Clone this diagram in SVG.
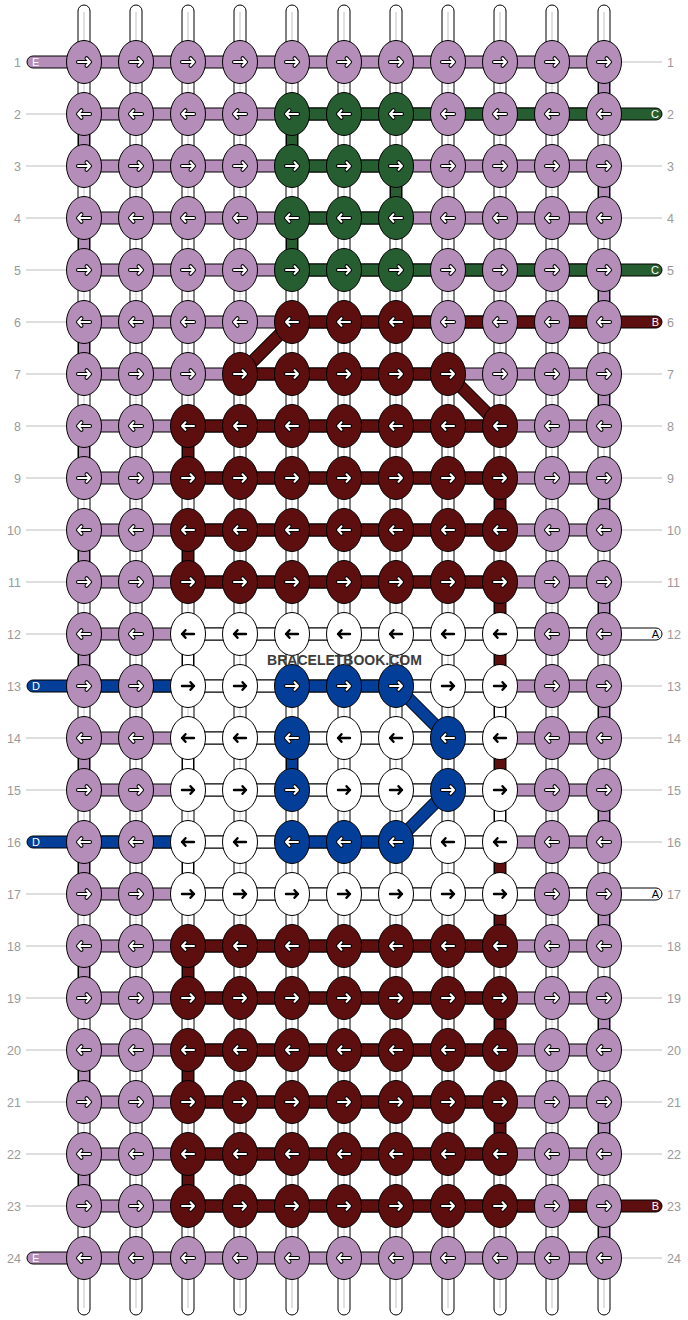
<svg xmlns="http://www.w3.org/2000/svg" xmlns:xlink="http://www.w3.org/1999/xlink" width="688" height="1320" viewBox="0 0 688 1320">
<style>
.s{stroke:#000;stroke-width:1}
.P{fill:#b48eb9}.G{fill:#275e31}.R{fill:#5d0e0e}.W{fill:#fff}.B{fill:#033f98}
.warp{fill:#fff;stroke:#000;stroke-width:1}
.wl{stroke:#c4c4c4;stroke-width:1}
.ao{fill:none;stroke:#000;stroke-width:4;stroke-linecap:round;stroke-linejoin:round}
.ai{fill:none;stroke:#fff;stroke-width:2;stroke-linecap:round;stroke-linejoin:round}
.ab{fill:none;stroke:#000;stroke-width:2.4;stroke-linecap:round;stroke-linejoin:round}
.num{font-family:"Liberation Sans",Arial,sans-serif;font-size:12.5px;fill:#9a9a9a}
.gl{stroke:#bdbdbd;stroke-width:1}
.lab{font-family:"Liberation Sans",Arial,sans-serif;font-size:11px}
.dO{stroke:#000;stroke-width:13}
.dR{stroke:#5d0e0e;stroke-width:11}
.dB{stroke:#033f98;stroke-width:11}
.title{font-family:"Liberation Sans",Arial,sans-serif;font-size:14px;font-weight:bold;fill:#3c3c3c}
</style>
<defs>
<path id="ar" d="M-6,0H6M2.5,-3.8L6,0L2.5,3.8"/>
<path id="al" d="M6,0H-6M-2.5,-3.8L-6,0L-2.5,3.8"/>
<g id="PR"><ellipse rx="17.5" ry="21.5" class="P s"/><use href="#ar" class="ao"/><use href="#ar" class="ai"/></g>
<g id="PL"><ellipse rx="17.5" ry="21.5" class="P s"/><use href="#al" class="ao"/><use href="#al" class="ai"/></g>
<g id="GR"><ellipse rx="17.5" ry="21.5" class="G s"/><use href="#ar" class="ao"/><use href="#ar" class="ai"/></g>
<g id="GL"><ellipse rx="17.5" ry="21.5" class="G s"/><use href="#al" class="ao"/><use href="#al" class="ai"/></g>
<g id="RR"><ellipse rx="17.5" ry="21.5" class="R s"/><use href="#ar" class="ao"/><use href="#ar" class="ai"/></g>
<g id="RL"><ellipse rx="17.5" ry="21.5" class="R s"/><use href="#al" class="ao"/><use href="#al" class="ai"/></g>
<g id="BR"><ellipse rx="17.5" ry="21.5" class="B s"/><use href="#ar" class="ao"/><use href="#ar" class="ai"/></g>
<g id="BL"><ellipse rx="17.5" ry="21.5" class="B s"/><use href="#al" class="ao"/><use href="#al" class="ai"/></g>
<g id="WR"><ellipse rx="17.5" ry="21.5" class="W s"/><use href="#ar" class="ab"/></g>
<g id="WL"><ellipse rx="17.5" ry="21.5" class="W s"/><use href="#al" class="ab"/></g>
</defs>
<rect width="688" height="1320" fill="#fff"/>
<g id="warps">
<rect class="warp" x="78" y="5" width="12" height="1310" rx="6"/><rect class="warp" x="130" y="5" width="12" height="1310" rx="6"/><rect class="warp" x="182" y="5" width="12" height="1310" rx="6"/><rect class="warp" x="234" y="5" width="12" height="1310" rx="6"/><rect class="warp" x="286" y="5" width="12" height="1310" rx="6"/><rect class="warp" x="338" y="5" width="12" height="1310" rx="6"/><rect class="warp" x="390" y="5" width="12" height="1310" rx="6"/><rect class="warp" x="442" y="5" width="12" height="1310" rx="6"/><rect class="warp" x="494" y="5" width="12" height="1310" rx="6"/><rect class="warp" x="546" y="5" width="12" height="1310" rx="6"/><rect class="warp" x="598" y="5" width="12" height="1310" rx="6"/>
<path class="wl" d="M84,12V1308M136,12V1308M188,12V1308M240,12V1308M292,12V1308M344,12V1308M396,12V1308M448,12V1308M500,12V1308M552,12V1308M604,12V1308"/>
</g>
<g id="labels-rows">
<path class="gl" d="M26,114H66M26,166H66M26,218H66M26,270H66M26,322H66M26,374H66M26,426H66M26,478H66M26,530H66M26,582H66M26,634H66M26,738H66M26,790H66M26,894H66M26,946H66M26,998H66M26,1050H66M26,1102H66M26,1154H66M26,1206H66"/>
<path class="gl" d="M622,62H662M622,166H662M622,218H662M622,374H662M622,426H662M622,478H662M622,530H662M622,582H662M622,686H662M622,738H662M622,790H662M622,842H662M622,946H662M622,998H662M622,1050H662M622,1102H662M622,1154H662M622,1258H662"/>
<g class="num" text-anchor="end">
<text x="21" y="66.5">1</text><text x="21" y="118.5">2</text><text x="21" y="170.5">3</text><text x="21" y="222.5">4</text><text x="21" y="274.5">5</text><text x="21" y="326.5">6</text><text x="21" y="378.5">7</text><text x="21" y="430.5">8</text><text x="21" y="482.5">9</text><text x="21" y="534.5">10</text><text x="21" y="586.5">11</text><text x="21" y="638.5">12</text><text x="21" y="690.5">13</text><text x="21" y="742.5">14</text><text x="21" y="794.5">15</text><text x="21" y="846.5">16</text><text x="21" y="898.5">17</text><text x="21" y="950.5">18</text><text x="21" y="1002.5">19</text><text x="21" y="1054.5">20</text><text x="21" y="1106.5">21</text><text x="21" y="1158.5">22</text><text x="21" y="1210.5">23</text><text x="21" y="1262.5">24</text>
</g>
<g class="num">
<text x="667" y="66.5">1</text><text x="667" y="118.5">2</text><text x="667" y="170.5">3</text><text x="667" y="222.5">4</text><text x="667" y="274.5">5</text><text x="667" y="326.5">6</text><text x="667" y="378.5">7</text><text x="667" y="430.5">8</text><text x="667" y="482.5">9</text><text x="667" y="534.5">10</text><text x="667" y="586.5">11</text><text x="667" y="638.5">12</text><text x="667" y="690.5">13</text><text x="667" y="742.5">14</text><text x="667" y="794.5">15</text><text x="667" y="846.5">16</text><text x="667" y="898.5">17</text><text x="667" y="950.5">18</text><text x="667" y="1002.5">19</text><text x="667" y="1054.5">20</text><text x="667" y="1106.5">21</text><text x="667" y="1158.5">22</text><text x="667" y="1210.5">23</text><text x="667" y="1262.5">24</text>
</g>
</g>
<g id="connectors">
<g id="vertical-wefts">
<g class="P s">
<rect x="598.5" y="62" width="11" height="52"/><rect x="598.5" y="166" width="11" height="52"/><rect x="598.5" y="270" width="11" height="52"/><rect x="598.5" y="374" width="11" height="52"/><rect x="598.5" y="478" width="11" height="52"/><rect x="598.5" y="582" width="11" height="52"/><rect x="598.5" y="686" width="11" height="52"/><rect x="598.5" y="790" width="11" height="52"/><rect x="598.5" y="894" width="11" height="52"/><rect x="598.5" y="998" width="11" height="52"/><rect x="598.5" y="1102" width="11" height="52"/><rect x="598.5" y="1206" width="11" height="52"/>
<rect x="78.5" y="114" width="11" height="52"/><rect x="78.5" y="218" width="11" height="52"/><rect x="78.5" y="322" width="11" height="52"/><rect x="78.5" y="426" width="11" height="52"/><rect x="78.5" y="530" width="11" height="52"/><rect x="78.5" y="634" width="11" height="52"/><rect x="78.5" y="738" width="11" height="52"/><rect x="78.5" y="842" width="11" height="52"/><rect x="78.5" y="946" width="11" height="52"/><rect x="78.5" y="1050" width="11" height="52"/><rect x="78.5" y="1154" width="11" height="52"/>
</g>
<g class="G s"><rect x="286.5" y="114" width="11" height="52"/><rect x="390.5" y="166" width="11" height="52"/><rect x="286.5" y="218" width="11" height="52"/></g>
<g class="R s">
<rect x="182.5" y="426" width="11" height="52"/><rect x="182.5" y="530" width="11" height="52"/><rect x="182.5" y="946" width="11" height="52"/><rect x="182.5" y="1050" width="11" height="52"/><rect x="182.5" y="1154" width="11" height="52"/>
<rect x="494.5" y="478" width="11" height="52"/><rect x="494.5" y="582" width="11" height="52"/><rect x="494.5" y="634" width="11" height="52"/><rect x="494.5" y="738" width="11" height="52"/><rect x="494.5" y="842" width="11" height="52"/><rect x="494.5" y="894" width="11" height="52"/><rect x="494.5" y="998" width="11" height="52"/><rect x="494.5" y="1102" width="11" height="52"/>
</g>
<g class="W s">
<rect x="182.5" y="634" width="11" height="52"/><rect x="182.5" y="738" width="11" height="52"/><rect x="182.5" y="842" width="11" height="52"/><rect x="494.5" y="686" width="11" height="52"/><rect x="494.5" y="790" width="11" height="52"/>
</g>
<g class="B s"><rect x="286.5" y="738" width="11" height="52"/></g>
</g>
<g id="horizontal-wefts">
<g class="P s">
<rect x="84" y="56" width="520" height="12"/><rect x="84" y="108" width="520" height="12"/><rect x="84" y="160" width="520" height="12"/><rect x="84" y="212" width="520" height="12"/><rect x="84" y="264" width="520" height="12"/><rect x="84" y="316" width="520" height="12"/><rect x="84" y="368" width="520" height="12"/><rect x="84" y="420" width="520" height="12"/><rect x="84" y="472" width="520" height="12"/><rect x="84" y="524" width="520" height="12"/><rect x="84" y="576" width="520" height="12"/><rect x="84" y="628" width="520" height="12"/><rect x="84" y="680" width="520" height="12"/><rect x="84" y="732" width="520" height="12"/><rect x="84" y="784" width="520" height="12"/><rect x="84" y="836" width="520" height="12"/><rect x="84" y="888" width="520" height="12"/><rect x="84" y="940" width="520" height="12"/><rect x="84" y="992" width="520" height="12"/><rect x="84" y="1044" width="520" height="12"/><rect x="84" y="1096" width="520" height="12"/><rect x="84" y="1148" width="520" height="12"/><rect x="84" y="1200" width="520" height="12"/><rect x="84" y="1252" width="520" height="12"/>
<path d="M84,56H33a6,6 0 0 0 0,12H84Z"/><path d="M84,1252H33a6,6 0 0 0 0,12H84Z"/>
</g>
<g class="G s">
<rect x="292" y="108" width="312" height="12"/><rect x="292" y="160" width="104" height="12"/><rect x="292" y="212" width="104" height="12"/><rect x="292" y="264" width="312" height="12"/>
<path d="M604,108H656a6,6 0 0 1 0,12H604Z"/><path d="M604,264H656a6,6 0 0 1 0,12H604Z"/>
</g>
<g class="R s">
<rect x="292" y="316" width="312" height="12"/><rect x="240" y="368" width="208" height="12"/><rect x="188" y="420" width="312" height="12"/><rect x="188" y="472" width="312" height="12"/><rect x="188" y="524" width="312" height="12"/><rect x="188" y="576" width="312" height="12"/>
<rect x="188" y="940" width="312" height="12"/><rect x="188" y="992" width="312" height="12"/><rect x="188" y="1044" width="312" height="12"/><rect x="188" y="1096" width="312" height="12"/><rect x="188" y="1148" width="312" height="12"/><rect x="188" y="1200" width="416" height="12"/>
<path d="M604,316H656a6,6 0 0 1 0,12H604Z"/><path d="M604,1200H656a6,6 0 0 1 0,12H604Z"/>
</g>
<g class="W s">
<rect x="188" y="628" width="416" height="12"/><rect x="188" y="680" width="104" height="12"/><rect x="396" y="680" width="104" height="12"/><rect x="188" y="732" width="312" height="12"/><rect x="188" y="784" width="312" height="12"/><rect x="188" y="836" width="104" height="12"/><rect x="396" y="836" width="104" height="12"/><rect x="188" y="888" width="416" height="12"/>
<path d="M604,628H656a6,6 0 0 1 0,12H604Z"/><path d="M604,888H656a6,6 0 0 1 0,12H604Z"/>
</g>
<g class="B s">
<rect x="84" y="680" width="104" height="12"/><rect x="292" y="680" width="104" height="12"/><rect x="84" y="836" width="104" height="12"/><rect x="292" y="836" width="104" height="12"/>
<path d="M84,680H33a6,6 0 0 0 0,12H84Z"/><path d="M84,836H33a6,6 0 0 0 0,12H84Z"/>
</g>
</g>
<g id="diagonals">
<path class="dO" d="M292,322L240,374M448,374L500,426M396,686L448,738M448,790L396,842"/>
<path class="dR" d="M292,322L240,374M448,374L500,426"/>
<path class="dB" d="M396,686L448,738M448,790L396,842"/>
</g>
<g id="strand-labels" class="lab">
<text x="32" y="66" fill="#fff">E</text><text x="32" y="1262" fill="#fff">E</text>
<text x="32" y="690" fill="#fff">D</text><text x="32" y="846" fill="#fff">D</text>
<text x="659" y="118" fill="#fff" text-anchor="end">C</text><text x="659" y="274" fill="#fff" text-anchor="end">C</text>
<text x="659" y="326" fill="#fff" text-anchor="end">B</text><text x="659" y="1210" fill="#fff" text-anchor="end">B</text>
<text x="659" y="638" fill="#000" text-anchor="end">A</text><text x="659" y="898" fill="#000" text-anchor="end">A</text>
</g>
</g>
<g id="knots">
<g id="k1-1"><use href="#PR" x="84" y="62"/></g><g id="k1-2"><use href="#PR" x="136" y="62"/></g><g id="k1-3"><use href="#PR" x="188" y="62"/></g><g id="k1-4"><use href="#PR" x="240" y="62"/></g><g id="k1-5"><use href="#PR" x="292" y="62"/></g><g id="k1-6"><use href="#PR" x="344" y="62"/></g><g id="k1-7"><use href="#PR" x="396" y="62"/></g><g id="k1-8"><use href="#PR" x="448" y="62"/></g><g id="k1-9"><use href="#PR" x="500" y="62"/></g><g id="k1-10"><use href="#PR" x="552" y="62"/></g><g id="k1-11"><use href="#PR" x="604" y="62"/></g>
<g id="k2-1"><use href="#PL" x="84" y="114"/></g><g id="k2-2"><use href="#PL" x="136" y="114"/></g><g id="k2-3"><use href="#PL" x="188" y="114"/></g><g id="k2-4"><use href="#PL" x="240" y="114"/></g><g id="k2-5"><use href="#GL" x="292" y="114"/></g><g id="k2-6"><use href="#GL" x="344" y="114"/></g><g id="k2-7"><use href="#GL" x="396" y="114"/></g><g id="k2-8"><use href="#PL" x="448" y="114"/></g><g id="k2-9"><use href="#PL" x="500" y="114"/></g><g id="k2-10"><use href="#PL" x="552" y="114"/></g><g id="k2-11"><use href="#PL" x="604" y="114"/></g>
<g id="k3-1"><use href="#PR" x="84" y="166"/></g><g id="k3-2"><use href="#PR" x="136" y="166"/></g><g id="k3-3"><use href="#PR" x="188" y="166"/></g><g id="k3-4"><use href="#PR" x="240" y="166"/></g><g id="k3-5"><use href="#GR" x="292" y="166"/></g><g id="k3-6"><use href="#GR" x="344" y="166"/></g><g id="k3-7"><use href="#GR" x="396" y="166"/></g><g id="k3-8"><use href="#PR" x="448" y="166"/></g><g id="k3-9"><use href="#PR" x="500" y="166"/></g><g id="k3-10"><use href="#PR" x="552" y="166"/></g><g id="k3-11"><use href="#PR" x="604" y="166"/></g>
<g id="k4-1"><use href="#PL" x="84" y="218"/></g><g id="k4-2"><use href="#PL" x="136" y="218"/></g><g id="k4-3"><use href="#PL" x="188" y="218"/></g><g id="k4-4"><use href="#PL" x="240" y="218"/></g><g id="k4-5"><use href="#GL" x="292" y="218"/></g><g id="k4-6"><use href="#GL" x="344" y="218"/></g><g id="k4-7"><use href="#GL" x="396" y="218"/></g><g id="k4-8"><use href="#PL" x="448" y="218"/></g><g id="k4-9"><use href="#PL" x="500" y="218"/></g><g id="k4-10"><use href="#PL" x="552" y="218"/></g><g id="k4-11"><use href="#PL" x="604" y="218"/></g>
<g id="k5-1"><use href="#PR" x="84" y="270"/></g><g id="k5-2"><use href="#PR" x="136" y="270"/></g><g id="k5-3"><use href="#PR" x="188" y="270"/></g><g id="k5-4"><use href="#PR" x="240" y="270"/></g><g id="k5-5"><use href="#GR" x="292" y="270"/></g><g id="k5-6"><use href="#GR" x="344" y="270"/></g><g id="k5-7"><use href="#GR" x="396" y="270"/></g><g id="k5-8"><use href="#PR" x="448" y="270"/></g><g id="k5-9"><use href="#PR" x="500" y="270"/></g><g id="k5-10"><use href="#PR" x="552" y="270"/></g><g id="k5-11"><use href="#PR" x="604" y="270"/></g>
<g id="k6-1"><use href="#PL" x="84" y="322"/></g><g id="k6-2"><use href="#PL" x="136" y="322"/></g><g id="k6-3"><use href="#PL" x="188" y="322"/></g><g id="k6-4"><use href="#PL" x="240" y="322"/></g><g id="k6-5"><use href="#RL" x="292" y="322"/></g><g id="k6-6"><use href="#RL" x="344" y="322"/></g><g id="k6-7"><use href="#RL" x="396" y="322"/></g><g id="k6-8"><use href="#PL" x="448" y="322"/></g><g id="k6-9"><use href="#PL" x="500" y="322"/></g><g id="k6-10"><use href="#PL" x="552" y="322"/></g><g id="k6-11"><use href="#PL" x="604" y="322"/></g>
<g id="k7-1"><use href="#PR" x="84" y="374"/></g><g id="k7-2"><use href="#PR" x="136" y="374"/></g><g id="k7-3"><use href="#PR" x="188" y="374"/></g><g id="k7-4"><use href="#RR" x="240" y="374"/></g><g id="k7-5"><use href="#RR" x="292" y="374"/></g><g id="k7-6"><use href="#RR" x="344" y="374"/></g><g id="k7-7"><use href="#RR" x="396" y="374"/></g><g id="k7-8"><use href="#RR" x="448" y="374"/></g><g id="k7-9"><use href="#PR" x="500" y="374"/></g><g id="k7-10"><use href="#PR" x="552" y="374"/></g><g id="k7-11"><use href="#PR" x="604" y="374"/></g>
<g id="k8-1"><use href="#PL" x="84" y="426"/></g><g id="k8-2"><use href="#PL" x="136" y="426"/></g><g id="k8-3"><use href="#RL" x="188" y="426"/></g><g id="k8-4"><use href="#RL" x="240" y="426"/></g><g id="k8-5"><use href="#RL" x="292" y="426"/></g><g id="k8-6"><use href="#RL" x="344" y="426"/></g><g id="k8-7"><use href="#RL" x="396" y="426"/></g><g id="k8-8"><use href="#RL" x="448" y="426"/></g><g id="k8-9"><use href="#RL" x="500" y="426"/></g><g id="k8-10"><use href="#PL" x="552" y="426"/></g><g id="k8-11"><use href="#PL" x="604" y="426"/></g>
<g id="k9-1"><use href="#PR" x="84" y="478"/></g><g id="k9-2"><use href="#PR" x="136" y="478"/></g><g id="k9-3"><use href="#RR" x="188" y="478"/></g><g id="k9-4"><use href="#RR" x="240" y="478"/></g><g id="k9-5"><use href="#RR" x="292" y="478"/></g><g id="k9-6"><use href="#RR" x="344" y="478"/></g><g id="k9-7"><use href="#RR" x="396" y="478"/></g><g id="k9-8"><use href="#RR" x="448" y="478"/></g><g id="k9-9"><use href="#RR" x="500" y="478"/></g><g id="k9-10"><use href="#PR" x="552" y="478"/></g><g id="k9-11"><use href="#PR" x="604" y="478"/></g>
<g id="k10-1"><use href="#PL" x="84" y="530"/></g><g id="k10-2"><use href="#PL" x="136" y="530"/></g><g id="k10-3"><use href="#RL" x="188" y="530"/></g><g id="k10-4"><use href="#RL" x="240" y="530"/></g><g id="k10-5"><use href="#RL" x="292" y="530"/></g><g id="k10-6"><use href="#RL" x="344" y="530"/></g><g id="k10-7"><use href="#RL" x="396" y="530"/></g><g id="k10-8"><use href="#RL" x="448" y="530"/></g><g id="k10-9"><use href="#RL" x="500" y="530"/></g><g id="k10-10"><use href="#PL" x="552" y="530"/></g><g id="k10-11"><use href="#PL" x="604" y="530"/></g>
<g id="k11-1"><use href="#PR" x="84" y="582"/></g><g id="k11-2"><use href="#PR" x="136" y="582"/></g><g id="k11-3"><use href="#RR" x="188" y="582"/></g><g id="k11-4"><use href="#RR" x="240" y="582"/></g><g id="k11-5"><use href="#RR" x="292" y="582"/></g><g id="k11-6"><use href="#RR" x="344" y="582"/></g><g id="k11-7"><use href="#RR" x="396" y="582"/></g><g id="k11-8"><use href="#RR" x="448" y="582"/></g><g id="k11-9"><use href="#RR" x="500" y="582"/></g><g id="k11-10"><use href="#PR" x="552" y="582"/></g><g id="k11-11"><use href="#PR" x="604" y="582"/></g>
<g id="k12-1"><use href="#PL" x="84" y="634"/></g><g id="k12-2"><use href="#PL" x="136" y="634"/></g><g id="k12-3"><use href="#WL" x="188" y="634"/></g><g id="k12-4"><use href="#WL" x="240" y="634"/></g><g id="k12-5"><use href="#WL" x="292" y="634"/></g><g id="k12-6"><use href="#WL" x="344" y="634"/></g><g id="k12-7"><use href="#WL" x="396" y="634"/></g><g id="k12-8"><use href="#WL" x="448" y="634"/></g><g id="k12-9"><use href="#WL" x="500" y="634"/></g><g id="k12-10"><use href="#PL" x="552" y="634"/></g><g id="k12-11"><use href="#PL" x="604" y="634"/></g>
<g id="k13-1"><use href="#PR" x="84" y="686"/></g><g id="k13-2"><use href="#PR" x="136" y="686"/></g><g id="k13-3"><use href="#WR" x="188" y="686"/></g><g id="k13-4"><use href="#WR" x="240" y="686"/></g><g id="k13-5"><use href="#BR" x="292" y="686"/></g><g id="k13-6"><use href="#BR" x="344" y="686"/></g><g id="k13-7"><use href="#BR" x="396" y="686"/></g><g id="k13-8"><use href="#WR" x="448" y="686"/></g><g id="k13-9"><use href="#WR" x="500" y="686"/></g><g id="k13-10"><use href="#PR" x="552" y="686"/></g><g id="k13-11"><use href="#PR" x="604" y="686"/></g>
<g id="k14-1"><use href="#PL" x="84" y="738"/></g><g id="k14-2"><use href="#PL" x="136" y="738"/></g><g id="k14-3"><use href="#WL" x="188" y="738"/></g><g id="k14-4"><use href="#WL" x="240" y="738"/></g><g id="k14-5"><use href="#BL" x="292" y="738"/></g><g id="k14-6"><use href="#WL" x="344" y="738"/></g><g id="k14-7"><use href="#WL" x="396" y="738"/></g><g id="k14-8"><use href="#BL" x="448" y="738"/></g><g id="k14-9"><use href="#WL" x="500" y="738"/></g><g id="k14-10"><use href="#PL" x="552" y="738"/></g><g id="k14-11"><use href="#PL" x="604" y="738"/></g>
<g id="k15-1"><use href="#PR" x="84" y="790"/></g><g id="k15-2"><use href="#PR" x="136" y="790"/></g><g id="k15-3"><use href="#WR" x="188" y="790"/></g><g id="k15-4"><use href="#WR" x="240" y="790"/></g><g id="k15-5"><use href="#BR" x="292" y="790"/></g><g id="k15-6"><use href="#WR" x="344" y="790"/></g><g id="k15-7"><use href="#WR" x="396" y="790"/></g><g id="k15-8"><use href="#BR" x="448" y="790"/></g><g id="k15-9"><use href="#WR" x="500" y="790"/></g><g id="k15-10"><use href="#PR" x="552" y="790"/></g><g id="k15-11"><use href="#PR" x="604" y="790"/></g>
<g id="k16-1"><use href="#PL" x="84" y="842"/></g><g id="k16-2"><use href="#PL" x="136" y="842"/></g><g id="k16-3"><use href="#WL" x="188" y="842"/></g><g id="k16-4"><use href="#WL" x="240" y="842"/></g><g id="k16-5"><use href="#BL" x="292" y="842"/></g><g id="k16-6"><use href="#BL" x="344" y="842"/></g><g id="k16-7"><use href="#BL" x="396" y="842"/></g><g id="k16-8"><use href="#WL" x="448" y="842"/></g><g id="k16-9"><use href="#WL" x="500" y="842"/></g><g id="k16-10"><use href="#PL" x="552" y="842"/></g><g id="k16-11"><use href="#PL" x="604" y="842"/></g>
<g id="k17-1"><use href="#PR" x="84" y="894"/></g><g id="k17-2"><use href="#PR" x="136" y="894"/></g><g id="k17-3"><use href="#WR" x="188" y="894"/></g><g id="k17-4"><use href="#WR" x="240" y="894"/></g><g id="k17-5"><use href="#WR" x="292" y="894"/></g><g id="k17-6"><use href="#WR" x="344" y="894"/></g><g id="k17-7"><use href="#WR" x="396" y="894"/></g><g id="k17-8"><use href="#WR" x="448" y="894"/></g><g id="k17-9"><use href="#WR" x="500" y="894"/></g><g id="k17-10"><use href="#PR" x="552" y="894"/></g><g id="k17-11"><use href="#PR" x="604" y="894"/></g>
<g id="k18-1"><use href="#PL" x="84" y="946"/></g><g id="k18-2"><use href="#PL" x="136" y="946"/></g><g id="k18-3"><use href="#RL" x="188" y="946"/></g><g id="k18-4"><use href="#RL" x="240" y="946"/></g><g id="k18-5"><use href="#RL" x="292" y="946"/></g><g id="k18-6"><use href="#RL" x="344" y="946"/></g><g id="k18-7"><use href="#RL" x="396" y="946"/></g><g id="k18-8"><use href="#RL" x="448" y="946"/></g><g id="k18-9"><use href="#RL" x="500" y="946"/></g><g id="k18-10"><use href="#PL" x="552" y="946"/></g><g id="k18-11"><use href="#PL" x="604" y="946"/></g>
<g id="k19-1"><use href="#PR" x="84" y="998"/></g><g id="k19-2"><use href="#PR" x="136" y="998"/></g><g id="k19-3"><use href="#RR" x="188" y="998"/></g><g id="k19-4"><use href="#RR" x="240" y="998"/></g><g id="k19-5"><use href="#RR" x="292" y="998"/></g><g id="k19-6"><use href="#RR" x="344" y="998"/></g><g id="k19-7"><use href="#RR" x="396" y="998"/></g><g id="k19-8"><use href="#RR" x="448" y="998"/></g><g id="k19-9"><use href="#RR" x="500" y="998"/></g><g id="k19-10"><use href="#PR" x="552" y="998"/></g><g id="k19-11"><use href="#PR" x="604" y="998"/></g>
<g id="k20-1"><use href="#PL" x="84" y="1050"/></g><g id="k20-2"><use href="#PL" x="136" y="1050"/></g><g id="k20-3"><use href="#RL" x="188" y="1050"/></g><g id="k20-4"><use href="#RL" x="240" y="1050"/></g><g id="k20-5"><use href="#RL" x="292" y="1050"/></g><g id="k20-6"><use href="#RL" x="344" y="1050"/></g><g id="k20-7"><use href="#RL" x="396" y="1050"/></g><g id="k20-8"><use href="#RL" x="448" y="1050"/></g><g id="k20-9"><use href="#RL" x="500" y="1050"/></g><g id="k20-10"><use href="#PL" x="552" y="1050"/></g><g id="k20-11"><use href="#PL" x="604" y="1050"/></g>
<g id="k21-1"><use href="#PR" x="84" y="1102"/></g><g id="k21-2"><use href="#PR" x="136" y="1102"/></g><g id="k21-3"><use href="#RR" x="188" y="1102"/></g><g id="k21-4"><use href="#RR" x="240" y="1102"/></g><g id="k21-5"><use href="#RR" x="292" y="1102"/></g><g id="k21-6"><use href="#RR" x="344" y="1102"/></g><g id="k21-7"><use href="#RR" x="396" y="1102"/></g><g id="k21-8"><use href="#RR" x="448" y="1102"/></g><g id="k21-9"><use href="#RR" x="500" y="1102"/></g><g id="k21-10"><use href="#PR" x="552" y="1102"/></g><g id="k21-11"><use href="#PR" x="604" y="1102"/></g>
<g id="k22-1"><use href="#PL" x="84" y="1154"/></g><g id="k22-2"><use href="#PL" x="136" y="1154"/></g><g id="k22-3"><use href="#RL" x="188" y="1154"/></g><g id="k22-4"><use href="#RL" x="240" y="1154"/></g><g id="k22-5"><use href="#RL" x="292" y="1154"/></g><g id="k22-6"><use href="#RL" x="344" y="1154"/></g><g id="k22-7"><use href="#RL" x="396" y="1154"/></g><g id="k22-8"><use href="#RL" x="448" y="1154"/></g><g id="k22-9"><use href="#RL" x="500" y="1154"/></g><g id="k22-10"><use href="#PL" x="552" y="1154"/></g><g id="k22-11"><use href="#PL" x="604" y="1154"/></g>
<g id="k23-1"><use href="#PR" x="84" y="1206"/></g><g id="k23-2"><use href="#PR" x="136" y="1206"/></g><g id="k23-3"><use href="#RR" x="188" y="1206"/></g><g id="k23-4"><use href="#RR" x="240" y="1206"/></g><g id="k23-5"><use href="#RR" x="292" y="1206"/></g><g id="k23-6"><use href="#RR" x="344" y="1206"/></g><g id="k23-7"><use href="#RR" x="396" y="1206"/></g><g id="k23-8"><use href="#RR" x="448" y="1206"/></g><g id="k23-9"><use href="#RR" x="500" y="1206"/></g><g id="k23-10"><use href="#PR" x="552" y="1206"/></g><g id="k23-11"><use href="#PR" x="604" y="1206"/></g>
<g id="k24-1"><use href="#PL" x="84" y="1258"/></g><g id="k24-2"><use href="#PL" x="136" y="1258"/></g><g id="k24-3"><use href="#PL" x="188" y="1258"/></g><g id="k24-4"><use href="#PL" x="240" y="1258"/></g><g id="k24-5"><use href="#PL" x="292" y="1258"/></g><g id="k24-6"><use href="#PL" x="344" y="1258"/></g><g id="k24-7"><use href="#PL" x="396" y="1258"/></g><g id="k24-8"><use href="#PL" x="448" y="1258"/></g><g id="k24-9"><use href="#PL" x="500" y="1258"/></g><g id="k24-10"><use href="#PL" x="552" y="1258"/></g><g id="k24-11"><use href="#PL" x="604" y="1258"/></g>
</g>
<text id="watermark" class="title" x="344.5" y="665" text-anchor="middle">BRACELETBOOK.COM</text>
</svg>
